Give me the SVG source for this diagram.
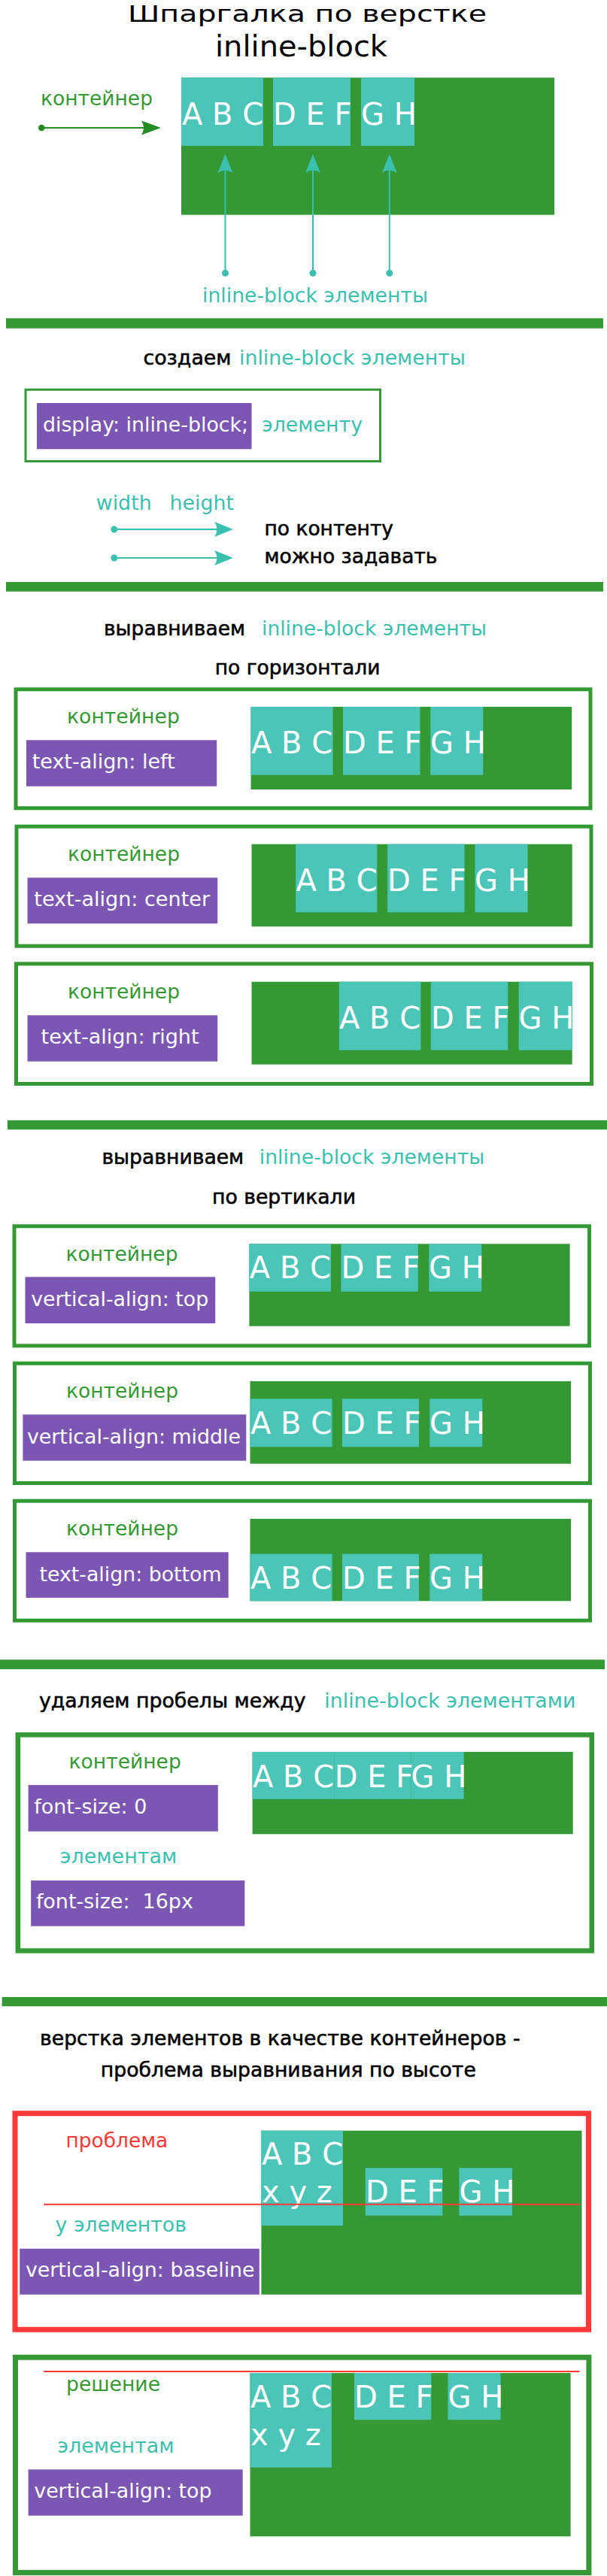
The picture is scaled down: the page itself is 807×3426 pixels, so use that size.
<svg xmlns="http://www.w3.org/2000/svg" width="807" height="3426" viewBox="0 0 807 3426">
<style>
text{font-family:"DejaVu Sans","Liberation Sans",sans-serif;}
.t{font-size:26px;}
.blk{fill:#000;stroke:#000;stroke-width:0.55;}
.ttl{fill:#000;}
.tl{fill:#3bbfaf;}
.gr{fill:#349934;}
.wh{fill:#fff;}
.rd{fill:#ff3838;}
.big{font-size:40px;fill:#fff;}
.bar{fill:#349934;}
.cont{fill:#349934;}
.el{fill:#4bc5b8;}
.pp{fill:#7b57b3;}
.box{fill:none;stroke:#349934;stroke-width:5;}
.rbox{fill:none;stroke:#ff3838;stroke-width:7;}
.ca{stroke:#3bbfaf;stroke-width:2;fill:none;marker-start:url(#dotT);marker-end:url(#arrT);}
.cg{stroke:#228b22;stroke-width:2;fill:none;marker-start:url(#dotG);marker-end:url(#arrG);}
</style>
<defs>
<marker id="arrT" markerUnits="userSpaceOnUse" viewBox="-30 -12 44 24" markerWidth="44" markerHeight="24" refX="0" refY="0" orient="auto" overflow="visible"><path d="M10,0 L-15,-10 Q-8,0 -15,10 Z" fill="#3bbfaf"/></marker>
<marker id="arrG" markerUnits="userSpaceOnUse" viewBox="-30 -12 44 24" markerWidth="44" markerHeight="24" refX="0" refY="0" orient="auto" overflow="visible"><path d="M10,0 L-16,-9.5 Q-10,0 -16,9.5 Z" fill="#228b22"/></marker>
<marker id="dotT" markerUnits="userSpaceOnUse" viewBox="-6 -6 12 12" markerWidth="12" markerHeight="12" refX="0" refY="0" overflow="visible"><circle r="4.5" fill="#3bbfaf"/></marker>
<marker id="dotG" markerUnits="userSpaceOnUse" viewBox="-6 -6 12 12" markerWidth="12" markerHeight="12" refX="0" refY="0" overflow="visible"><circle r="4.3" fill="#228b22"/></marker>
</defs>

<g id="title">
<text x="170" y="28.5" font-size="30.5" textLength="477" lengthAdjust="spacingAndGlyphs" class="ttl">Шпаргалка по верстке</text>
<text x="286" y="75" font-size="39.5" textLength="229" lengthAdjust="spacingAndGlyphs" class="ttl">inline-block</text>
</g>

<g id="intro">
<text x="54" y="140" class="t gr" textLength="149" lengthAdjust="spacingAndGlyphs">контейнер</text>
<rect class="cont" x="241" y="103.3" width="496" height="182.4"/>
<rect class="el" x="241" y="103.3" width="109" height="90.7"/>
<rect class="el" x="363" y="103.3" width="103" height="90.7"/>
<rect class="el" x="480" y="103.3" width="71" height="90.7"/>
<text class="big" x="242" y="165.7">A B C</text>
<text class="big" x="363" y="165.7">D E F</text>
<text class="big" x="480" y="165.7">G H</text>
<text x="269" y="401.7" class="t tl" textLength="300" lengthAdjust="spacingAndGlyphs">inline-block элементы</text>
</g>

<g id="bars">
<rect class="bar" x="8" y="423.3" width="794" height="13.4"/>
<rect class="bar" x="8" y="774" width="794" height="12.7"/>
<rect class="bar" x="10" y="1490" width="797" height="12.3"/>
<rect class="bar" x="0" y="2207.3" width="804" height="12.7"/>
<rect class="bar" x="2.6" y="2656" width="804.4" height="12.3"/>
</g>

<g id="create">
<text x="190.5" y="485" class="t blk" textLength="117" lengthAdjust="spacingAndGlyphs">создаем</text>
<text x="318" y="485" class="t tl" textLength="301" lengthAdjust="spacingAndGlyphs">inline-block элементы</text>
<rect x="34" y="518.2" width="471.5" height="95.3" fill="none" stroke="#349934" stroke-width="3"/>
<rect class="pp" x="49" y="536" width="285.5" height="61.3"/>
<text x="57" y="574" class="t wh" textLength="273" lengthAdjust="spacingAndGlyphs">display: inline-block;</text>
<text x="348" y="574" class="t tl" textLength="134" lengthAdjust="spacingAndGlyphs">элементу</text>
<text x="127.7" y="678" class="t tl" textLength="74" lengthAdjust="spacingAndGlyphs">width</text>
<text x="225.5" y="678" class="t tl" textLength="85.5" lengthAdjust="spacingAndGlyphs">height</text>
<text x="351.5" y="711.7" class="t blk" textLength="171.5" lengthAdjust="spacingAndGlyphs">по контенту</text>
<text x="351.5" y="749" class="t blk" textLength="230" lengthAdjust="spacingAndGlyphs">можно задавать</text>
</g>

<g id="halign-head">
<text x="138" y="845" class="t blk" textLength="188" lengthAdjust="spacingAndGlyphs">выравниваем</text>
<text x="348" y="845" class="t tl" textLength="299" lengthAdjust="spacingAndGlyphs">inline-block элементы</text>
<text x="285.7" y="896.7" class="t blk" textLength="219.7" lengthAdjust="spacingAndGlyphs">по горизонтали</text>
</g>

<g id="box-left">
<rect class="box" x="21" y="916.8" width="764" height="158"/>
<text x="89" y="961.7" class="t gr" textLength="149.8" lengthAdjust="spacingAndGlyphs">контейнер</text>
<rect class="pp" x="35" y="984.3" width="253.2" height="61.4"/>
<text x="42.7" y="1022.3" class="t wh" textLength="190" lengthAdjust="spacingAndGlyphs">text-align: left</text>
<rect class="cont" x="333.5" y="940" width="426.7" height="110"/>
<rect class="el" x="333.5" y="940" width="109.1" height="90.7"/>
<rect class="el" x="456" y="940" width="102.4" height="90.7"/>
<rect class="el" x="572.3" y="940" width="70" height="90.7"/>
<text class="big" x="334" y="1002.3">A B C</text>
<text class="big" x="456" y="1002.3">D E F</text>
<text class="big" x="572" y="1002.3">G H</text>
</g>

<g id="box-center">
<rect class="box" x="22" y="1099.2" width="764" height="159"/>
<text x="90" y="1145" class="t gr" textLength="149" lengthAdjust="spacingAndGlyphs">контейнер</text>
<rect class="pp" x="36.5" y="1167.3" width="252.7" height="61"/>
<text x="45.3" y="1205" class="t wh" textLength="233.7" lengthAdjust="spacingAndGlyphs">text-align: center</text>
<rect class="cont" x="334.5" y="1122.7" width="426.2" height="109.6"/>
<rect class="el" x="393.2" y="1122.7" width="108.1" height="90.6"/>
<rect class="el" x="515.2" y="1122.7" width="102.4" height="90.6"/>
<rect class="el" x="631.5" y="1122.7" width="70" height="90.6"/>
<text class="big" x="393.5" y="1185">A B C</text>
<text class="big" x="515" y="1185">D E F</text>
<text class="big" x="631" y="1185">G H</text>
</g>

<g id="box-right">
<rect class="box" x="21.5" y="1281.8" width="765" height="159.7"/>
<text x="90" y="1328.3" class="t gr" textLength="149" lengthAdjust="spacingAndGlyphs">контейнер</text>
<rect class="pp" x="36.5" y="1350.3" width="252.7" height="61.4"/>
<text x="54.6" y="1388.3" class="t wh" textLength="210" lengthAdjust="spacingAndGlyphs">text-align: right</text>
<rect class="cont" x="334.5" y="1305.7" width="426.2" height="110"/>
<rect class="el" x="450.8" y="1305.7" width="108.6" height="91"/>
<rect class="el" x="572.8" y="1305.7" width="102.5" height="91"/>
<rect class="el" x="689.7" y="1305.7" width="71" height="91"/>
<text class="big" x="451" y="1367.7">A B C</text>
<text class="big" x="573" y="1367.7">D E F</text>
<text class="big" x="689.5" y="1367.7">G H</text>
</g>

<g id="valign-head">
<text x="135.4" y="1548.3" class="t blk" textLength="188.8" lengthAdjust="spacingAndGlyphs">выравниваем</text>
<text x="344.8" y="1548.3" class="t tl" textLength="299.5" lengthAdjust="spacingAndGlyphs">inline-block элементы</text>
<text x="282" y="1601" class="t blk" textLength="191" lengthAdjust="spacingAndGlyphs">по вертикали</text>
</g>

<g id="box-top">
<rect class="box" x="19" y="1630.8" width="764.5" height="159"/>
<text x="87.5" y="1677" class="t gr" textLength="149" lengthAdjust="spacingAndGlyphs">контейнер</text>
<rect class="pp" x="33.5" y="1698.3" width="252.7" height="61.7"/>
<text x="41.2" y="1736.7" class="t wh" textLength="236" lengthAdjust="spacingAndGlyphs">vertical-align: top</text>
<rect class="cont" x="331.4" y="1654.3" width="426.2" height="109.4"/>
<rect class="el" x="331.4" y="1654.3" width="108.6" height="63.4"/>
<rect class="el" x="453.4" y="1654.3" width="102.4" height="63.4"/>
<rect class="el" x="570.3" y="1654.3" width="70" height="63.4"/>
<text class="big" x="331.8" y="1700">A B C</text>
<text class="big" x="453.5" y="1700">D E F</text>
<text class="big" x="570" y="1700">G H</text>
</g>

<g id="box-middle">
<rect class="box" x="19.5" y="1813.2" width="765" height="159.3"/>
<text x="88" y="1859" class="t gr" textLength="149" lengthAdjust="spacingAndGlyphs">контейнер</text>
<rect class="pp" x="30.4" y="1881.3" width="296.9" height="61.4"/>
<text x="36" y="1920" class="t wh" textLength="284" lengthAdjust="spacingAndGlyphs">vertical-align: middle</text>
<rect class="cont" x="332.5" y="1837" width="426.6" height="109.7"/>
<rect class="el" x="332.5" y="1860.3" width="109.1" height="64"/>
<rect class="el" x="455" y="1860.3" width="101.9" height="64"/>
<rect class="el" x="571.3" y="1860.3" width="70" height="64"/>
<text class="big" x="333" y="1906.7">A B C</text>
<text class="big" x="455" y="1906.7">D E F</text>
<text class="big" x="571" y="1906.7">G H</text>
</g>

<g id="box-bottom">
<rect class="box" x="19.5" y="1996.2" width="765" height="159"/>
<text x="88" y="2041.7" class="t gr" textLength="149" lengthAdjust="spacingAndGlyphs">контейнер</text>
<rect class="pp" x="34.5" y="2064.3" width="269.2" height="60.7"/>
<text x="52.5" y="2102.5" class="t wh" textLength="242" lengthAdjust="spacingAndGlyphs">text-align: bottom</text>
<rect class="cont" x="332.5" y="2020" width="426.6" height="109.3"/>
<rect class="el" x="332.5" y="2066.7" width="109.1" height="62.6"/>
<rect class="el" x="455" y="2066.7" width="101.9" height="62.6"/>
<rect class="el" x="571.3" y="2066.7" width="70" height="62.6"/>
<text class="big" x="333" y="2113">A B C</text>
<text class="big" x="455" y="2113">D E F</text>
<text class="big" x="571" y="2113">G H</text>
</g>

<g id="spaces-head">
<text x="52" y="2270.7" class="t blk" textLength="354.6" lengthAdjust="spacingAndGlyphs">удаляем пробелы между</text>
<text x="431.3" y="2270.7" class="t tl" textLength="334" lengthAdjust="spacingAndGlyphs">inline-block элементами</text>
</g>

<g id="box-fontsize">
<rect class="box" style="stroke-width:6.5" x="23.85" y="2307.25" width="762.9" height="287.2"/>
<text x="91.6" y="2351.7" class="t gr" textLength="149.2" lengthAdjust="spacingAndGlyphs">контейнер</text>
<rect class="pp" x="37.6" y="2374" width="252.2" height="61.7"/>
<text x="45.3" y="2411.7" class="t wh" textLength="150" lengthAdjust="spacingAndGlyphs">font-size: 0</text>
<rect class="cont" x="335.6" y="2330" width="426.1" height="109.3"/>
<rect class="el" x="335.6" y="2330" width="109.1" height="62.7"/>
<rect class="el" x="444.7" y="2330" width="101.9" height="62.7"/>
<rect class="el" x="546.6" y="2330" width="70" height="62.7"/>
<text class="big" x="336" y="2376.7">A B C</text>
<text class="big" x="444.7" y="2376.7">D E F</text>
<text class="big" x="546.6" y="2376.7">G H</text>
<text x="79.8" y="2478.3" class="t tl" textLength="155.4" lengthAdjust="spacingAndGlyphs">элементам</text>
<rect class="pp" x="41.2" y="2501" width="284.1" height="60.7"/>
<text x="47.9" y="2538.3" class="t wh" textLength="209" lengthAdjust="spacingAndGlyphs" xml:space="preserve">font-size:  16px</text>
</g>

<g id="height-head">
<text x="53" y="2720" class="t blk" textLength="638.7" lengthAdjust="spacingAndGlyphs">верстка элементов в качестве контейнеров -</text>
<text x="133.8" y="2761.7" class="t blk" textLength="499" lengthAdjust="spacingAndGlyphs">проблема выравнивания по высоте</text>
</g>

<g id="box-problem">
<rect class="rbox" x="20" y="2810.8" width="762.5" height="287.4"/>
<text x="87.5" y="2855.7" class="t rd" textLength="135.8" lengthAdjust="spacingAndGlyphs">проблема</text>
<rect class="cont" x="347.4" y="2833.7" width="426.1" height="218"/>
<rect class="el" x="347.4" y="2833.7" width="108.6" height="126.3"/>
<rect class="el" x="485.8" y="2883.3" width="102.5" height="63.4"/>
<rect class="el" x="610.4" y="2883.3" width="70.6" height="63.4"/>
<text class="big" x="348" y="2879.3">A B C</text>
<text class="big" x="348" y="2929">x y z</text>
<text class="big" x="486" y="2929">D E F</text>
<text class="big" x="610.5" y="2929">G H</text>
<line x1="58.2" y1="2931.7" x2="770.5" y2="2931.7" stroke="#ff3838" stroke-width="2"/>
<text x="73.6" y="2968.3" class="t tl" textLength="174.4" lengthAdjust="spacingAndGlyphs">у элементов</text>
<rect class="pp" x="26.2" y="2990.7" width="318.6" height="61"/>
<text x="34" y="3028.3" class="t wh" textLength="304.6" lengthAdjust="spacingAndGlyphs">vertical-align: baseline</text>
</g>

<g id="box-solution">
<rect class="box" style="stroke-width:7" x="20.5" y="3135.2" width="762.4" height="286.3"/>
<rect class="cont" x="332.5" y="3156" width="426.1" height="217.3"/>
<rect class="el" x="332.5" y="3156" width="108.5" height="125.7"/>
<rect class="el" x="471" y="3156" width="102.3" height="62.3"/>
<rect class="el" x="595.5" y="3156" width="70" height="62.3"/>
<line x1="58.2" y1="3154" x2="770.5" y2="3154" stroke="#ff3838" stroke-width="2"/>
<text class="big" x="333" y="3202.3">A B C</text>
<text class="big" x="333" y="3251.7">x y z</text>
<text class="big" x="471" y="3202.3">D E F</text>
<text class="big" x="595.5" y="3202.3">G H</text>
<text x="88" y="3180" class="t gr" textLength="125" lengthAdjust="spacingAndGlyphs">решение</text>
<text x="76.2" y="3262.3" class="t tl" textLength="155.4" lengthAdjust="spacingAndGlyphs">элементам</text>
<rect class="pp" x="37.6" y="3284.3" width="285.1" height="61.4"/>
<text x="45.3" y="3322.3" class="t wh" textLength="236.2" lengthAdjust="spacingAndGlyphs">vertical-align: top</text>
</g>

<g id="connectors">
<line class="cg" x1="55.3" y1="170" x2="204" y2="170"/>
<line class="ca" x1="299.5" y1="363.3" x2="299.5" y2="215"/>
<line class="ca" x1="416" y1="363.3" x2="416" y2="215"/>
<line class="ca" x1="517.8" y1="363.3" x2="517.8" y2="215"/>
<line class="ca" x1="151.8" y1="704" x2="300" y2="704"/>
<line class="ca" x1="151.8" y1="742" x2="300" y2="742"/>
</g>
</svg>
